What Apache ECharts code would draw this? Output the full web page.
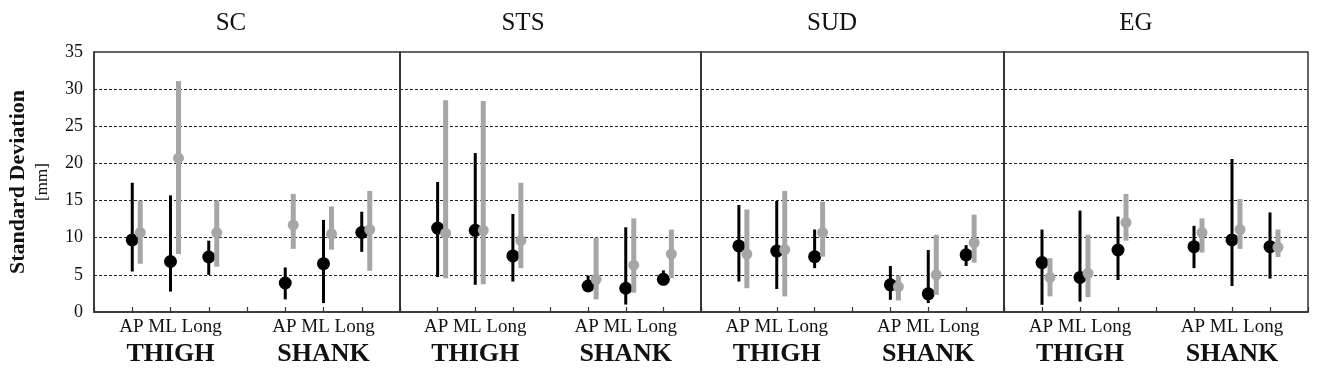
<!DOCTYPE html>
<html><head><meta charset="utf-8">
<script src="https://cdn.jsdelivr.net/npm/echarts@6/dist/echarts.min.js"></script>
<style>html,body{margin:0;padding:0;background:#fff}#c{width:1317px;height:374px}</style>
</head><body><div id="c"></div>
<script>
// ---- data ----
const panelNames = ['SC', 'STS', 'SUD', 'EG'];
const xPositions = [1, 2, 3, 5, 6, 7];          // thigh AP/ML/Long, shank AP/ML/Long
const dirLabel = 'AP ML Long';
const segmentLabels = ['THIGH', 'SHANK'];
const yTickValues = [0, 5, 10, 15, 20, 25, 30, 35];
// each entry: [mean, low, high]
const scBlack  = [[9.7,5.45,17.4],[6.8,2.75,15.7],[7.4,5.0,9.6],[3.9,1.7,6.0],[6.5,1.2,12.4],[10.7,8.1,13.5]];
const scGrey   = [[10.7,6.5,15.0],[20.7,7.8,31.1],[10.7,6.1,15.0],[11.7,8.5,15.9],[10.5,8.4,14.2],[11.1,5.55,16.3]];
const stsBlack = [[11.3,4.7,17.5],[11.0,3.66,21.4],[7.55,4.1,13.2],[3.5,2.9,4.9],[3.2,1.0,11.4],[4.4,3.7,5.6]];
const stsGrey  = [[10.6,4.55,28.5],[11.0,3.75,28.4],[9.6,5.9,17.4],[4.4,1.7,10.0],[6.3,2.6,12.6],[7.8,4.55,11.1]];
const sudBlack = [[8.9,4.1,14.4],[8.2,3.1,14.95],[7.45,5.9,11.1],[3.66,1.64,6.2],[2.45,1.2,8.35],[7.7,6.2,9.0]];
const sudGrey  = [[7.8,3.2,13.8],[8.4,2.1,16.3],[10.7,7.45,14.85],[3.4,1.55,4.9],[5.0,2.3,10.4],[9.35,6.65,13.1]];
const egBlack  = [[6.65,0.97,11.1],[4.65,1.4,13.65],[8.35,4.3,12.85],[8.8,5.9,11.6],[9.7,3.5,20.6],[8.8,4.5,13.4]];
const egGrey   = [[4.65,2.1,7.25],[5.2,2.0,10.4],[12.05,9.6,15.9],[10.7,8.0,12.6],[11.1,8.5,15.2],[8.7,7.4,11.1]];
const blackSets = [scBlack, stsBlack, sudBlack, egBlack];
const greySets = [scGrey, stsGrey, sudGrey, egGrey];

// ---- layout ----
const gridLefts = [94, 400, 701, 1004];
const gridWidths = [306, 301, 303, 304];
const titleCenters = [231, 523, 832, 1136];
const FONT = '"Liberation Serif", "Times New Roman", serif';
const BLACK = '#000000', GREY = '#a6a6a6';

function makeRender(color, lineW, r, dx) {
  return function (params, api) {
    const x = api.value(0);
    const pm = api.coord([x, api.value(1)]);
    const pl = api.coord([x, api.value(2)]);
    const ph = api.coord([x, api.value(3)]);
    const cx = pm[0] + dx;
    return { type: 'group', children: [
      { type: 'line', shape: { x1: cx, y1: pl[1], x2: cx, y2: ph[1] }, style: { stroke: color, lineWidth: lineW } },
      { type: 'circle', shape: { cx: cx, cy: pm[1], r: r }, style: { fill: color } }
    ]};
  };
}

const grids = [], xAxes = [], yAxes = [], series = [], titles = [];
panelNames.forEach((name, i) => {
  grids.push({ left: gridLefts[i], width: gridWidths[i], top: 52, height: 260,
    show: true, borderColor: '#333', borderWidth: 1.5, backgroundColor: 'transparent' });
  xAxes.push({ gridIndex: i, type: 'value', min: 0, max: 8, interval: 1,
    axisLine: { show: true, lineStyle: { color: '#333', width: 1.5 } },
    axisTick: { show: true, inside: true, length: 5, lineStyle: { color: '#333', width: 1.2 } },
    splitLine: { show: false },
    axisLabel: { show: true, margin: 4, interval: 0,
      formatter: v => v === 2 ? '{s|' + dirLabel + '}\n{g|' + segmentLabels[0] + '}'
                    : v === 6 ? '{s|' + dirLabel + '}\n{g|' + segmentLabels[1] + '}' : '',
      rich: {
        s: { fontFamily: FONT, fontSize: 19, color: '#111', lineHeight: 23, align: 'center' },
        g: { fontFamily: FONT, fontSize: 26, fontWeight: 'bold', color: '#111', lineHeight: 31, align: 'center' }
      } }
  });
  yAxes.push({ gridIndex: i, type: 'value', min: yTickValues[0], max: yTickValues[yTickValues.length - 1], interval: 5,
    axisLine: { show: true, lineStyle: { color: '#333', width: 1.5 } },
    axisTick: { show: false },
    axisLabel: { show: i === 0, fontFamily: FONT, fontSize: 18, color: '#111', margin: 11 },
    splitLine: { show: true, showMinLine: false, showMaxLine: false, lineStyle: { color: '#222', width: 1, type: [3, 2] } },
    name: i === 0 ? '{a|Standard Deviation}\n{b|[mm]}' : '',
    nameLocation: 'middle', nameRotate: 90, nameGap: 40,
    nameTextStyle: { rich: {
      a: { fontFamily: FONT, fontSize: 22, fontWeight: 'bold', color: '#111', lineHeight: 27, align: 'center' },
      b: { fontFamily: FONT, fontSize: 17, color: '#111', lineHeight: 22, align: 'center' }
    } }
  });
  const toData = arr => arr.map((d, k) => [xPositions[k], d[0], d[1], d[2]]);
  series.push({ type: 'custom', xAxisIndex: i, yAxisIndex: i, data: toData(blackSets[i]),
    encode: { x: 0, y: [1, 2, 3] }, renderItem: makeRender(BLACK, 3, 6.5, 0), z: 3 });
  series.push({ type: 'custom', xAxisIndex: i, yAxisIndex: i, data: toData(greySets[i]),
    encode: { x: 0, y: [1, 2, 3] }, renderItem: makeRender(GREY, 5, 5.5, 8), z: 4 });
  titles.push({ text: name, left: titleCenters[i], top: 11, textAlign: 'center', padding: 0,
    textStyle: { fontFamily: FONT, fontSize: 25, fontWeight: 'normal', color: '#111' } });
});

const chart = echarts.init(document.getElementById('c'), null, { renderer: 'canvas' });
chart.setOption({ animation: false, backgroundColor: '#fff', title: titles,
  grid: grids, xAxis: xAxes, yAxis: yAxes, series: series });
</script>
</body></html>
